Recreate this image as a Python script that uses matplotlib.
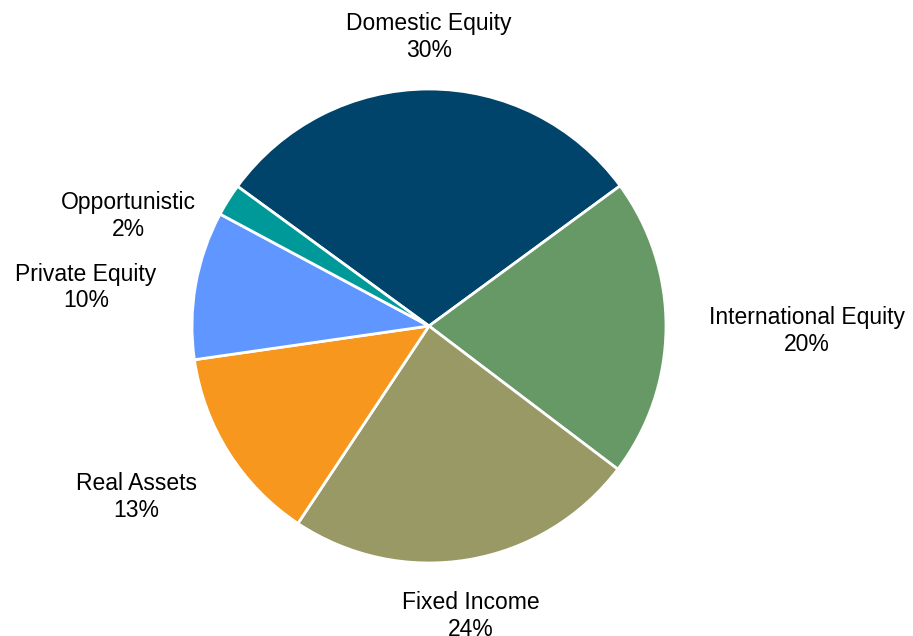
import numpy as np
import matplotlib
matplotlib.use('Agg')
import matplotlib.pyplot as plt

# asset allocation (percent of total)
categories = ['Domestic Equity', 'International Equity', 'Fixed Income',
              'Real Assets', 'Private Equity', 'Opportunistic']
values = [29.9, 20.4, 24.0, 13.4, 10.1, 2.2]
colors = ['#00446B', '#669966', '#999966', '#F7971E', '#5F96FF', '#009999']

# label placement: radial distance and angle tweak (deg) per slice
label_dist = [1.22, 1.595, 1.235, 1.43, 1.456, 1.35]
label_dtheta = [0, -0.3, -1.5, -2, 3.6, 12]

plt.rcParams['font.family'] = ['Liberation Sans', 'DejaVu Sans']

fig = plt.figure(figsize=(9.13, 6.36), dpi=100)
ax = fig.add_axes([0, 0, 1, 1])

wedges, _ = ax.pie(values, colors=colors, startangle=143.9, counterclock=False,
                   radius=1.0, wedgeprops=dict(edgecolor='white', linewidth=2))

total = sum(values)
for w, name, v, d, dt in zip(wedges, categories, values, label_dist, label_dtheta):
    mid = np.deg2rad((w.theta1 + w.theta2) / 2 + dt)
    x, y = d * np.cos(mid), d * np.sin(mid)
    ax.text(x, y, '%s\n%d%%' % (name, round(v / total * 100)),
            ha='center', va='center', fontsize=16.5, color='black', linespacing=1.2)

# pixel scale: radius = 237 px, centre at (429, 326) from top-left
s = 237.0
ax.set_aspect('auto')
ax.set_xlim(-429 / s, (913 - 429) / s)
ax.set_ylim(-(636 - 326) / s, 326 / s)
ax.axis('off')

fig.savefig('out.png', dpi=100)
